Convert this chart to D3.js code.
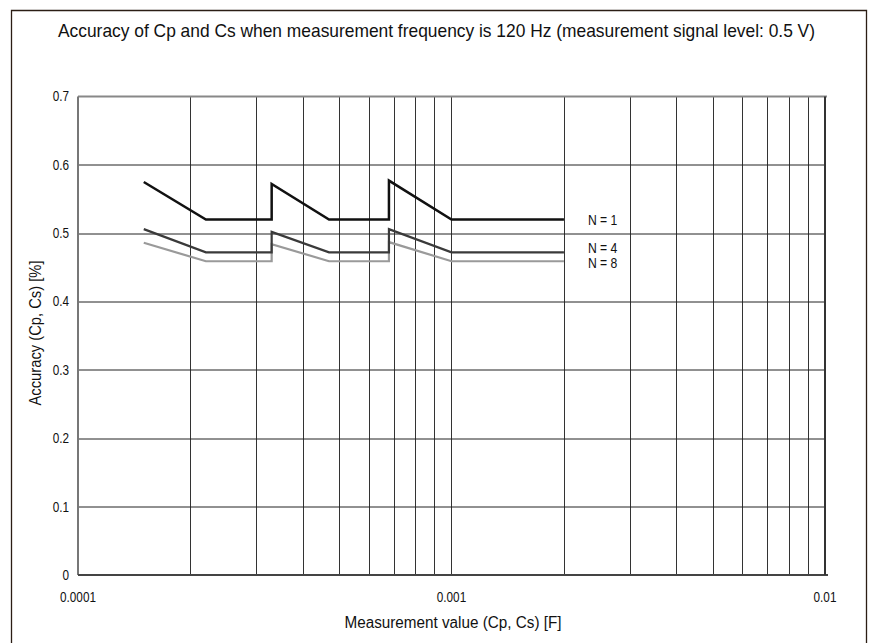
<!DOCTYPE html>
<html lang="en">
<head>
<meta charset="UTF-8">
<title>Accuracy of Cp and Cs</title>
<script src="https://d3js.org/d3.v7.min.js"></script>
<style>
  body { margin: 0; background: #fff; }
  svg text { font-family: "Liberation Sans", Arial, sans-serif; fill: #111; }
</style>
</head>
<body>
<div id="chart"></div>
<script>
// x values of the accuracy curves (measurement value in F)
var xVals = [1.5e-4, 2.2e-4, 3.3e-4, 3.3e-4, 4.7e-4, 6.8e-4, 6.8e-4, 1e-3, 2e-3];
// accuracy [%] for each averaging count
var n1 = [0.575, 0.52, 0.52, 0.572, 0.52, 0.52, 0.577, 0.52, 0.52];
var n4 = [0.506, 0.472, 0.472, 0.502, 0.472, 0.472, 0.506, 0.472, 0.472];
var n8 = [0.486, 0.459, 0.459, 0.484, 0.459, 0.459, 0.487, 0.459, 0.459];
var seriesNames = ["N = 1", "N = 4", "N = 8"];
var yTicks = [0, 0.1, 0.2, 0.3, 0.4, 0.5, 0.6, 0.7];
var xTickLabels = [0.0001, 0.001, 0.01];

var W = 870, H = 643;
var margin = { top: 96.5, right: 45, bottom: 68, left: 78 };
var width = W - margin.left - margin.right,
    height = H - margin.top - margin.bottom;

var svg = d3.select("#chart").append("svg")
    .attr("width", W)
    .attr("height", H);

// squeeze text horizontally, to look like the condensed face of the original
function condense(sel, f) {
    sel.each(function () {
        var len = this.getComputedTextLength();
        d3.select(this)
            .attr("textLength", len * f)
            .attr("lengthAdjust", "spacingAndGlyphs");
    });
}

// outer frame (bottom edge runs off the picture)
svg.append("path")
    .attr("d", "M11.5," + H + "V10.5H866.5V" + H)
    .attr("fill", "none")
    .attr("stroke", "#2b1d14")
    .attr("stroke-width", 1.3);

svg.append("text")
    .attr("x", 436.5)
    .attr("y", 37)
    .attr("text-anchor", "middle")
    .attr("textLength", 757)
    .attr("lengthAdjust", "spacingAndGlyphs")
    .style("font-size", "18.5px")
    .text("Accuracy of Cp and Cs when measurement frequency is 120 Hz (measurement signal level: 0.5 V)");

var g = svg.append("g")
    .attr("transform", "translate(" + margin.left + "," + margin.top + ")");

var x = d3.scaleLog().domain([1e-4, 1e-2]).range([0, width]);
var y = d3.scaleLinear().domain([0, 0.7]).range([height, 0]);

// vertical grid: every minor log tick
var xGrid = x.ticks().filter(function (d) { return d > 1e-4 && d < 1e-2; });
g.selectAll(".vgrid")
    .data(xGrid)
    .enter().append("line")
    .attr("x1", function (d) { return Math.round(x(d)) + 0.5; })
    .attr("x2", function (d) { return Math.round(x(d)) + 0.5; })
    .attr("y1", 0)
    .attr("y2", height)
    .attr("stroke", "#333")
    .attr("stroke-width", 1);

// horizontal grid
g.selectAll(".hgrid")
    .data(yTicks.filter(function (d) { return d > 0 && d < 0.7; }))
    .enter().append("line")
    .attr("x1", 0)
    .attr("x2", width)
    .attr("y1", function (d) { return Math.round(y(d)) + 0.5; })
    .attr("y2", function (d) { return Math.round(y(d)) + 0.5; })
    .attr("stroke", "#222")
    .attr("stroke-width", 1);

// frame of the plot
g.append("line").attr("x1", 0).attr("x2", width + 2).attr("y1", 0).attr("y2", 0)
    .attr("stroke", "#888").attr("stroke-width", 2);
g.append("line").attr("x1", 0).attr("x2", 0).attr("y1", 0).attr("y2", height)
    .attr("stroke", "#777").attr("stroke-width", 2);
g.append("line").attr("x1", 0).attr("x2", width + 3).attr("y1", height).attr("y2", height)
    .attr("stroke", "#444").attr("stroke-width", 2);
g.append("line").attr("x1", width).attr("x2", width).attr("y1", 0).attr("y2", height)
    .attr("stroke", "#333").attr("stroke-width", 2);

// y axis labels
g.selectAll(".ylab")
    .data(yTicks)
    .enter().append("text")
    .attr("x", -9)
    .attr("y", function (d) { return y(d); })
    .attr("dy", "0.35em")
    .attr("text-anchor", "end")
    .style("font-size", "14px")
    .text(function (d) { return d === 0 ? "0" : d3.format(".1f")(d); })
    .call(condense, 0.84);

// x axis labels
g.selectAll(".xlab")
    .data(xTickLabels)
    .enter().append("text")
    .attr("x", function (d) { return x(d); })
    .attr("y", height + 27)
    .attr("text-anchor", "middle")
    .style("font-size", "14px")
    .text(function (d) { return String(d); })
    .call(condense, 0.84);

svg.append("text")
    .attr("x", 453)
    .attr("y", 628)
    .attr("text-anchor", "middle")
    .attr("textLength", 217)
    .attr("lengthAdjust", "spacingAndGlyphs")
    .style("font-size", "16px")
    .text("Measurement value (Cp, Cs) [F]");

svg.append("text")
    .attr("transform", "translate(40.5,333) rotate(-90)")
    .attr("text-anchor", "middle")
    .attr("textLength", 145)
    .attr("lengthAdjust", "spacingAndGlyphs")
    .style("font-size", "16px")
    .text("Accuracy (Cp, Cs) [%]");

// curves
var line = d3.line()
    .x(function (d) { return x(d[0]); })
    .y(function (d) { return y(d[1]); });

var series = [
    { name: seriesNames[0], values: n1, color: "#111", w: 2.5 },
    { name: seriesNames[1], values: n4, color: "#3a3a3a", w: 2.2 },
    { name: seriesNames[2], values: n8, color: "#9a9a9a", w: 2.2 }
];

series.slice().reverse().forEach(function (s) {
    g.append("path")
        .datum(d3.zip(xVals, s.values))
        .attr("d", line)
        .attr("fill", "none")
        .attr("stroke", s.color)
        .attr("stroke-width", s.w)
        .attr("stroke-linejoin", "miter");
});

// series labels
var labelY = [0.52, 0.478, 0.456];
series.forEach(function (s, i) {
    g.append("text")
        .attr("x", x(2e-3) + 24)
        .attr("y", y(labelY[i]))
        .attr("dy", "0.35em")
        .style("font-size", "14.5px")
        .text(s.name)
        .call(condense, 0.84);
});
</script>
</body>
</html>
